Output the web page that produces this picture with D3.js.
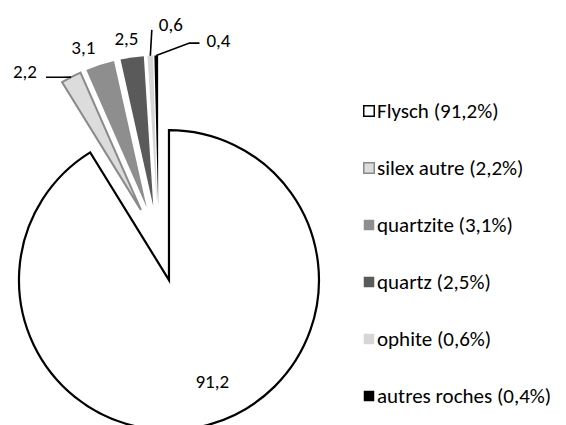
<!DOCTYPE html>
<html>
<head>
<meta charset="utf-8">
<script src="https://cdn.jsdelivr.net/npm/d3@7"></script>
<style>
  html, body { margin: 0; padding: 0; background: #fff; }
  svg text { font-family: Carlito, Calibri, Lato, sans-serif; fill: #000; }
</style>
</head>
<body>
<svg id="chart" width="566" height="425"></svg>
<script>
// Rock types and their share (%) of the assemblage
const categories = ["Flysch", "silex autre", "quartzite", "quartz", "ophite", "autres roches"];
const values = [91.2, 2.2, 3.1, 2.5, 0.6, 0.4];

// Slice styling, one entry per category
const fills   = ["#ffffff", "#dcdcdc", "#8e8e8e", "#5a5a5a", "#d6d6d6", "#000000"];
const strokes = ["#000000", "#8a8a8a", "none", "none", "none", "none"];

const fr = d3.formatLocale({ decimal: ",", thousands: " ", grouping: [3], currency: ["", " €"] });
const fmt = fr.format(".1f");

const svg = d3.select("#chart");

// Pie geometry
const cx = 158.6, cy = 243.5;     // pie centre
const radius = 150;
const explode = 38;               // every slice pulled out from the centre

const pie = d3.pie().sort(null).value(d => d.value).startAngle(0).endAngle(2 * Math.PI);
const data = categories.map((c, i) => ({ name: c, value: values[i], i }));
const arcs = pie(data);

const arc = d3.arc().innerRadius(0).outerRadius(radius);
const polar = (a, r) => [Math.sin(a) * r, -Math.cos(a) * r];

const g = svg.append("g").attr("transform", `translate(${cx},${cy})`);

arcs.forEach(a => { a.mid = (a.startAngle + a.endAngle) / 2; a.off = polar(a.mid, explode); });

g.selectAll("path.slice")
  .data(arcs)
  .join("path")
  .attr("class", "slice")
  .attr("transform", a => `translate(${a.off[0]},${a.off[1]})`)
  .attr("d", arc)
  .attr("fill", a => fills[a.index])
  .attr("stroke", a => strokes[a.index])
  .attr("stroke-width", a => a.index === 0 ? 2.2 : 2)
  .attr("stroke-linejoin", "miter");

// Value labels: polar placement (degrees, distance from pie centre)
const labelPlace = [
  { ang: 156.8, fromApex: 110 },
  { ang: -37.8, r: 218 },
  { ang: -21.0, r: 210 },
  { ang: -8.9,  r: 207.5 },
  { ang: 3.2,   r: 219 },
  { ang: 16.4,  r: 212 }
];
const labelSize = 19;
const legendSize = 21;

arcs.forEach(a => {
  const p = labelPlace[a.index];
  let x, y;
  if (a.index === 0) {
    const q = polar(p.ang * Math.PI / 180, p.fromApex);
    x = a.off[0] + q[0]; y = a.off[1] + q[1];
  } else {
    const q = polar(p.ang * Math.PI / 180, p.r);
    x = q[0]; y = q[1];
  }
  a.lx = x; a.ly = y;
  g.append("text")
    .attr("x", x).attr("y", y)
    .attr("text-anchor", "middle")
    .attr("dominant-baseline", "central")
    .attr("font-size", labelSize)
    .text(fmt(a.data.value));
});

// Leader lines from labels to the outer edge of thin slices
const tip = a => polar(a.mid, radius + explode);
const leader = d3.line();
function drawLeader(pts) {
  g.append("path").attr("d", leader(pts))
    .attr("fill", "none").attr("stroke", "#000").attr("stroke-width", 1.6);
}
{
  const a = arcs[1], t = tip(a);
  const sx = a.lx + 21, sy = a.ly + 6;
  drawLeader([[sx, sy], [sx + 16, sy], t]);
}
{
  const a = arcs[4], t = tip(a);
  drawLeader([[a.lx - 19, a.ly + 5], t]);
}
{
  const a = arcs[5], t = tip(a);
  const sx = a.lx - 19, sy = a.ly + 3;
  drawLeader([[sx, sy], [sx - 10, sy], t]);
}

// Legend
const legend = svg.append("g").attr("transform", "translate(363,111)");
const rowGap = 57;
const rows = legend.selectAll("g.row")
  .data(data)
  .join("g")
  .attr("class", "row")
  .attr("transform", (d, i) => `translate(0,${i * rowGap})`);

rows.append("rect")
  .attr("x", 0.75).attr("y", -5.25)
  .attr("width", 10.5).attr("height", 10.5)
  .attr("fill", d => fills[d.i])
  .attr("stroke", d => d.i === 0 ? "#000" : d.i === 1 ? "#8a8a8a" : "none")
  .attr("stroke-width", 1.5);

rows.append("text")
  .attr("x", 14)
  .attr("y", 0)
  .attr("dominant-baseline", "central")
  .attr("font-size", legendSize)
  .text(d => `${d.name} (${fmt(d.value)}%)`);
</script>
</body>
</html>
